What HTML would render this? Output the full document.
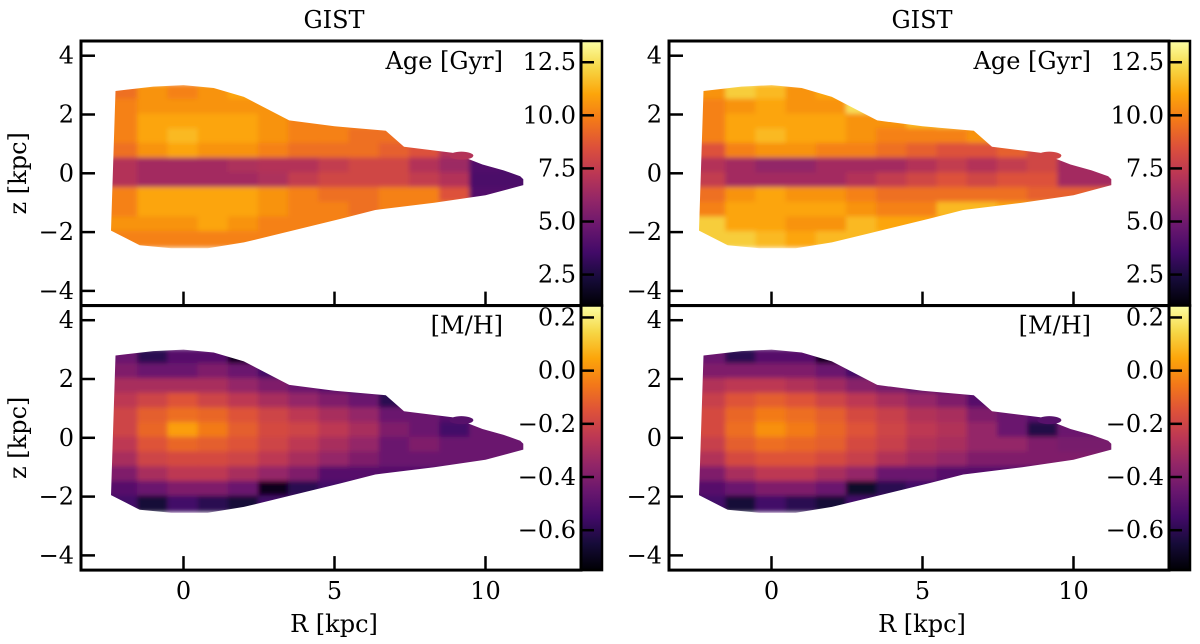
<!DOCTYPE html>
<html><head><meta charset="utf-8">
<style>
html,body{margin:0;padding:0;background:#fff;}
svg{display:block;font-family:"DejaVu Serif","Liberation Serif",serif;}
</style></head>
<body>
<svg id="fig" width="1200" height="644" viewBox="0 0 1200 644" xmlns="http://www.w3.org/2000/svg">
<defs>
<filter id="soft" x="-5%" y="-5%" width="110%" height="110%"><feGaussianBlur stdDeviation="2.5"/></filter>
</defs>
</svg>
<script>
// ---- data ----
const rCenters = [-2,-1,0,1,2,3,4,5,6,7,8,9,10,11];
const zCenters = [2.75,2.25,1.75,1.25,0.75,0.25,-0.25,-0.75,-1.25,-1.75,-2.25];
const upperR = [-2.25,-1,0,1,2,3.5,5,6.7,7.3,8.9,9.9,10.6,11.15,11.25];
const upperZ = [2.8,2.95,3.0,2.9,2.6,1.8,1.6,1.45,0.9,0.7,0.3,0.1,-0.1,-0.2];
const lowerR = [11.25,10,8.3,6.35,5.2,3.2,2.0,0.8,-0.4,-1.45,-2.4];
const lowerZ = [-0.4,-0.75,-1.0,-1.25,-1.55,-2.05,-2.35,-2.55,-2.55,-2.45,-1.95];
const ageTicks = [2.5,5.0,7.5,10.0,12.5];
const mhTicks = [-0.6,-0.4,-0.2,0.0,0.2];
const xTicks = [0,5,10];
const yTicks = [-4,-2,0,2,4];
const ageLeft = [
[9.5,10.5,10,10.5,11,10,10,10,10,10,10,10,10,10],
[10,10.5,10.5,10.5,10.5,10.5,10,10,10,10,10,10,10,10],
[10,11,11,11,11,10.5,10,10,10,10,10,10,10,10],
[10,11,11.5,11,11,10.5,10,10,9.5,9.5,9,9,9,9],
[9.5,10.5,11,10.5,10.5,10,9.5,9.5,9.5,9,8.5,7,7,7],
[7,6.5,6.5,6.5,6.8,7,7,7.5,8,8,7,6.3,4,3.8],
[7,6.5,6.5,6.5,6.5,6.8,7.5,8,8,8,7.5,7,3.8,3.8],
[10,11,11,11,11,10.5,10,9.5,9.5,10,10,8.5,4,4],
[10,11,11,11,11,10.5,10,10,9.5,10,10,10,10,10],
[10.5,10.5,10.5,11,10.5,10,10,10,10,10,10,10,10,10],
[10,10,10,10,10,10,10,10,10,10,10,10,10,10]];
const ageRight = [
[10.5,12,11.5,10.5,11,12.5,12,12,12,12,12,12,12,12],
[10,10.5,11,10.5,10.5,12.5,11,12,12.5,12,12,12,12,12],
[10,11,11,11,11,10.5,10.5,11.5,12,10,10,10,10,10],
[10,11,11.5,11,11,10.5,10,10,10,10.5,10.5,9,9,9],
[8.5,10,10.5,10.5,10,10,9.5,9,8.5,8.5,9,8,8,8],
[7,6.5,6,6,6.5,6.5,6.5,7,7.5,7,7.5,8,6.5,6.5],
[7.5,6.5,6.5,6.5,6.5,7,7.5,8,8.5,8,8.5,8.5,6.5,6.5],
[9.5,10.5,11,10.5,10.5,10,9.5,9.5,9.5,9.5,9.5,9,9,9],
[10,11,11,11,11,10.5,10,10,11.5,11.5,11,11,11,11],
[12,11,11,10.5,10.5,11.5,11,11,11,11,11,11,11,11],
[12,12,11.5,11,11.5,11.5,11.5,11.5,11.5,11.5,11.5,11.5,11.5,11.5]];
const mhLeft = [
[-0.45,-0.6,-0.5,-0.5,-0.7,-0.55,-0.55,-0.55,-0.55,-0.55,-0.55,-0.55,-0.55,-0.55],
[-0.4,-0.45,-0.45,-0.4,-0.45,-0.55,-0.55,-0.55,-0.55,-0.55,-0.55,-0.55,-0.55,-0.55],
[-0.3,-0.3,-0.3,-0.3,-0.35,-0.4,-0.45,-0.5,-0.55,-0.55,-0.55,-0.55,-0.55,-0.55],
[-0.25,-0.2,-0.15,-0.2,-0.25,-0.3,-0.35,-0.4,-0.45,-0.6,-0.5,-0.5,-0.5,-0.5],
[-0.2,-0.12,-0.08,-0.1,-0.15,-0.2,-0.25,-0.3,-0.35,-0.45,-0.45,-0.5,-0.5,-0.5],
[-0.2,-0.1,0.03,-0.05,-0.12,-0.18,-0.2,-0.25,-0.3,-0.4,-0.45,-0.55,-0.45,-0.45],
[-0.25,-0.15,-0.1,-0.12,-0.15,-0.2,-0.25,-0.3,-0.35,-0.45,-0.4,-0.45,-0.45,-0.45],
[-0.3,-0.2,-0.18,-0.18,-0.2,-0.25,-0.3,-0.35,-0.4,-0.45,-0.45,-0.45,-0.45,-0.45],
[-0.4,-0.3,-0.25,-0.25,-0.3,-0.35,-0.4,-0.5,-0.5,-0.5,-0.5,-0.5,-0.5,-0.5],
[-0.5,-0.45,-0.4,-0.4,-0.45,-0.7,-0.6,-0.55,-0.55,-0.55,-0.55,-0.55,-0.55,-0.55],
[-0.55,-0.65,-0.55,-0.6,-0.65,-0.55,-0.55,-0.55,-0.55,-0.55,-0.55,-0.55,-0.55,-0.55]];
const mhRight = [
[-0.45,-0.6,-0.5,-0.5,-0.7,-0.55,-0.55,-0.55,-0.55,-0.55,-0.55,-0.55,-0.55,-0.55],
[-0.4,-0.4,-0.4,-0.4,-0.45,-0.55,-0.55,-0.55,-0.55,-0.55,-0.55,-0.55,-0.55,-0.55],
[-0.28,-0.25,-0.25,-0.28,-0.32,-0.38,-0.42,-0.48,-0.5,-0.55,-0.55,-0.55,-0.55,-0.55],
[-0.22,-0.15,-0.12,-0.15,-0.2,-0.25,-0.3,-0.35,-0.4,-0.5,-0.5,-0.5,-0.5,-0.5],
[-0.18,-0.1,-0.05,-0.08,-0.12,-0.18,-0.22,-0.28,-0.3,-0.4,-0.45,-0.5,-0.5,-0.5],
[-0.18,-0.08,0.0,-0.05,-0.1,-0.15,-0.2,-0.25,-0.28,-0.35,-0.45,-0.62,-0.45,-0.45],
[-0.22,-0.12,-0.08,-0.1,-0.12,-0.18,-0.22,-0.28,-0.3,-0.35,-0.35,-0.4,-0.42,-0.42],
[-0.28,-0.18,-0.15,-0.15,-0.18,-0.22,-0.28,-0.32,-0.35,-0.4,-0.4,-0.4,-0.4,-0.4],
[-0.4,-0.3,-0.25,-0.25,-0.3,-0.35,-0.45,-0.45,-0.5,-0.5,-0.5,-0.5,-0.5,-0.5],
[-0.5,-0.45,-0.4,-0.4,-0.45,-0.68,-0.6,-0.55,-0.55,-0.55,-0.55,-0.55,-0.55,-0.55],
[-0.55,-0.65,-0.55,-0.6,-0.65,-0.55,-0.55,-0.55,-0.55,-0.55,-0.55,-0.55,-0.55,-0.55]];

// ---- helpers ----
const NS = "http://www.w3.org/2000/svg";
const svg = document.getElementById('fig');
function mk(tag, attrs, parent){const e=document.createElementNS(NS,tag);for(const k in attrs)e.setAttribute(k,attrs[k]);(parent||svg).appendChild(e);return e;}
const stops=[[0,0,0,4],[0.1,22,11,57],[0.2,66,10,104],[0.3,106,23,110],[0.4,147,38,103],[0.5,188,55,84],[0.6,221,81,58],[0.7,243,120,25],[0.8,252,165,10],[0.9,246,215,70],[1,252,255,164]];
function inferno(t){t=Math.max(0,Math.min(1,t));for(let i=1;i<stops.length;i++){if(t<=stops[i][0]){const a=stops[i-1],b=stops[i];const f=(t-a[0])/(b[0]-a[0]);return 'rgb('+[1,2,3].map(j=>Math.round(a[j]+(b[j]-a[j])*f)).join(',')+')';}}return 'rgb(252,255,164)';}

const X0 = 183.5, PXR = 30.2, PXZ = 29.4, FS = 24;
function panel(idx, offX, top, grid, vmin, vmax, ticks, fmt, label, title, showX){
  const cz = top + 4.5*PXZ;
  const xs = r => offX + X0 + r*PXR;
  const ys = z => cz - z*PXZ;
  const left = offX + 81, right = offX + 581, bottom = top + 9*PXZ;
  const g = mk('g',{});
  
  
  let pts=[];
  upperR.forEach((r,i)=>pts.push(xs(r).toFixed(1)+','+ys(upperZ[i]).toFixed(1)));
  lowerR.forEach((r,i)=>pts.push(xs(r).toFixed(1)+','+ys(lowerZ[i]).toFixed(1)));
  const cp = mk('clipPath',{id:'clip'+idx}, svg.querySelector('defs'));
  mk('polygon',{points:pts.join(' ')},cp);
  const mapG = mk('g',{'clip-path':'url(#clip'+idx+')'},g);
  
  
  const inner = mk('g',{filter:'url(#soft)'},mapG);
  grid.forEach((row,i)=>row.forEach((v,j)=>{
    const c = mk('rect',{x:xs(rCenters[j]-0.5)-1,y:ys(zCenters[i]+0.25)-1,width:PXR+2,height:PXZ*0.5+2,fill:inferno((v-vmin)/(vmax-vmin))},inner);
    
    
  }));
  const blob = mk('ellipse',{cx:xs(9.2),cy:ys(0.6),rx:12,ry:4,fill:inferno((grid[4][11]-vmin)/(vmax-vmin))},g);
  
  
  const cbx = offX + 581, cbw = 21;
  const grad = mk('linearGradient',{id:'cb'+idx,x1:0,y1:1,x2:0,y2:0},svg.querySelector('defs'));
  for(let k=0;k<=10;k++) mk('stop',{offset:k/10,'stop-color':inferno(k/10)},grad);
  const cb = mk('rect',{x:cbx,y:top,width:cbw,height:bottom-top,fill:'url(#cb'+idx+')',stroke:'#000','stroke-width':2.5},g);
  
  
  const cy = v => bottom - (v-vmin)/(vmax-vmin)*(bottom-top);
  ticks.forEach(v=>{
    mk('line',{x1:cbx,x2:cbx+13,y1:cy(v),y2:cy(v),stroke:'#000','stroke-width':2.5},g);
    const t = mk('text',{x:cbx-5,y:cy(v)+8,'text-anchor':'end','font-size':FS},g);
    t.textContent = fmt(v);
    
    
  });
  const fr = mk('rect',{x:left,y:top,width:right-left,height:bottom-top,fill:'none',stroke:'#000','stroke-width':3},g);
  
  
  yTicks.forEach(v=>{
    mk('line',{x1:left,x2:left+14,y1:ys(v),y2:ys(v),stroke:'#000','stroke-width':2.5},g);
    const t = mk('text',{x:left-7,y:ys(v)+8,'text-anchor':'end','font-size':FS},g);
    t.textContent = v<0 ? '\u2212'+(-v) : String(v);
    
    
  });
  xTicks.forEach(v=>{
    mk('line',{x1:xs(v),x2:xs(v),y1:bottom,y2:bottom-14,stroke:'#000','stroke-width':2.5},g);
    if(showX){
      const t = mk('text',{x:xs(v),y:bottom+29,'text-anchor':'middle','font-size':FS},g);
      t.textContent = String(v);
      
      
    }
  });
  const lb = mk('text',{x:offX+503,y:top+28,'text-anchor':'end','font-size':FS},g);
  lb.textContent = label;
  
  
  if(title){
    const tt = mk('text',{x:offX+334,y:top-13,'text-anchor':'middle','font-size':FS},g);
    tt.textContent = title;
    
    
  }
  if(showX){
    const xl = mk('text',{x:offX+334,y:bottom+62,'text-anchor':'middle','font-size':FS},g);
    xl.textContent = 'R [kpc]';
    
    
  }
  if(offX===0){
    const yl = mk('text',{x:0,y:0,'text-anchor':'middle','font-size':FS,transform:'translate(26,'+cz+') rotate(-90)'},g);
    yl.textContent = 'z [kpc]';
    
    
  }
}
const fAge = v => v.toFixed(1);
const fMH = v => (v<0?'\u2212':'')+Math.abs(v).toFixed(1);
panel('age-left',0,41,ageLeft,1.04,13.5,ageTicks,fAge,'Age [Gyr]','GIST',false);
panel('age-right',588,41,ageRight,1.04,13.5,ageTicks,fAge,'Age [Gyr]','GIST',false);
panel('mh-left',0,305.5,mhLeft,-0.75,0.245,mhTicks,fMH,'[M/H]',null,true);
panel('mh-right',588,305.5,mhRight,-0.75,0.245,mhTicks,fMH,'[M/H]',null,true);
</script>
</body></html>
